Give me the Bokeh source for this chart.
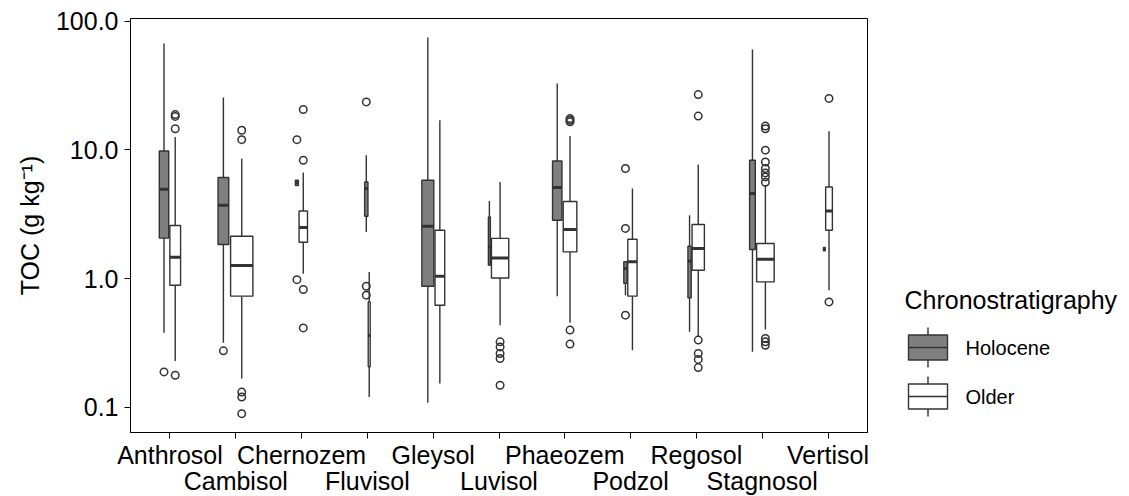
import numpy as np
from bokeh.plotting import figure
from bokeh.models import Range1d, FixedTicker, NumeralTickFormatter, ColumnDataSource, LinearAxis
from bokeh.layouts import row
from bokeh.embed import file_html
from bokeh.resources import INLINE
from bokeh.core.properties import value

# ---------------- data ----------------
soils = ["Anthrosol", "Cambisol", "Chernozem", "Fluvisol", "Gleysol", "Luvisol",
         "Phaeozem", "Podzol", "Regosol", "Stagnosol", "Vertisol"]

groups = ["Holocene", "Older"]

# Holocene boxplot statistics (TOC, g/kg)
holo_lower  = [0.378, 0.316, 5.28, 2.30, 0.108, 1.25, 0.729, 0.742, 0.385, 0.269, 1.64]
holo_q1     = [2.06, 1.84, 5.28, 3.05, 0.871, 1.27, 2.84, 0.919, 0.707, 1.68, 1.64]
holo_median = [4.94, 3.71, 5.55, 5.00, 2.55, 1.75, 5.10, 1.196, 1.36, 4.58, 1.69]
holo_q3     = [9.8, 6.1, 5.81, 5.63, 5.81, 3.01, 8.2, 1.35, 1.78, 8.3, 1.74]
holo_upper  = [67.0, 25.5, 5.81, 9.08, 74.6, 4.01, 32.8, 1.35, 3.10, 60.2, 1.74]
holo_width  = [0.143, 0.163, 0.046, 0.050, 0.182, 0.030, 0.143, 0.050, 0.050, 0.087, 0.027]
holo_outliers = [
    [0.188],
    [0.274],
    [12.0, 0.98],
    [23.6, 0.871, 0.742],
    [],
    [],
    [],
    [7.16, 2.45, 0.519],
    [],
    [],
    [],
]

# Older boxplot statistics (TOC, g/kg)
older_lower  = [0.228, 0.167, 1.09, 0.120, 0.153, 0.434, 0.452, 0.277, 0.356, 0.401, 0.811]
older_q1     = [0.887, 0.729, 1.915, 0.206, 0.62, 1.01, 1.61, 0.729, 1.16, 0.941, 2.37]
older_median = [1.46, 1.26, 2.49, 0.36, 1.04, 1.445, 2.40, 1.35, 1.71, 1.41, 3.34]
older_q3     = [2.58, 2.13, 3.35, 0.658, 2.37, 2.05, 3.97, 2.02, 2.63, 1.87, 5.15]
older_upper  = [12.6, 8.56, 6.67, 1.125, 17.0, 5.63, 12.8, 5.01, 7.69, 5.3, 13.96]
older_width  = [0.163, 0.339, 0.128, 0.030, 0.147, 0.263, 0.207, 0.141, 0.187, 0.267, 0.102]
older_outliers = [
    [18.2, 18.8, 14.6, 0.177],
    [14.2, 12.0, 0.131, 0.120, 0.089],
    [20.6, 8.3, 0.821, 0.413],
    [],
    [],
    [0.322, 0.294, 0.261, 0.239, 0.148],
    [17.5, 17.0, 16.5, 0.397, 0.309],
    [],
    [26.9, 18.3, 0.332, 0.261, 0.235, 0.203],
    [15.3, 14.6, 9.94, 8.06, 7.16, 6.62, 6.16, 5.6, 0.342, 0.322, 0.303],
    [25.1, 0.658],
]

y_ticks = [0.1, 1, 10, 100]

# ---------------- styling ----------------
FONT = "Liberation Sans"
FILLS = {"Holocene": "#7f7f7f", "Older": "#ffffff"}
EDGE = "#333333"
PAD = 0.9  # dodge2 padding: drawn width / slot width
LW = 1.4

TOP, FRAME_H, BOTTOM = 18, 414, 64
xs = np.arange(1, len(soils) + 1)

p = figure(frame_width=737, frame_height=FRAME_H, y_axis_type="log",
           x_range=Range1d(0.4, len(soils) + 0.6),
           y_range=Range1d(10 ** -1.197, 10 ** 2.021),
           min_border_left=130, min_border_right=13, min_border_top=TOP,
           min_border_bottom=BOTTOM,
           output_backend="svg", toolbar_location=None,
           background_fill_color="white", border_fill_color="white")

stats = {
    "Holocene": (holo_lower, holo_q1, holo_median, holo_q3, holo_upper, holo_width, holo_outliers),
    "Older": (older_lower, older_q1, older_median, older_q3, older_upper, older_width, older_outliers),
}

# dodge2-style placement: the two boxes sit side by side, centred on the category
slot_h = np.array(holo_width) / PAD
slot_o = np.array(older_width) / PAD
left = xs - (slot_h + slot_o) / 2
centers = {"Holocene": left + slot_h / 2, "Older": left + slot_h + slot_o / 2}

for g in groups:
    lo, q1, med, q3, hi, w, outs = stats[g]
    c = centers[g]
    w = np.array(w)
    src = ColumnDataSource(dict(
        x=c, lo=lo, q1=q1, med=med, q3=q3, hi=hi,
        l=c - w / 2, r=c + w / 2,
    ))
    p.segment(x0="x", y0="q3", x1="x", y1="hi", source=src, line_color=EDGE, line_width=LW)
    p.segment(x0="x", y0="lo", x1="x", y1="q1", source=src, line_color=EDGE, line_width=LW)
    p.quad(left="l", right="r", bottom="q1", top="q3", source=src,
           fill_color=FILLS[g], line_color=EDGE, line_width=LW)
    p.segment(x0="l", y0="med", x1="r", y1="med", source=src, line_color=EDGE, line_width=3)
    ox, oy = [], []
    for i, vals in enumerate(outs):
        for v in vals:
            ox.append(c[i])
            oy.append(v)
    p.scatter(ox, oy, marker="circle", size=7.5, fill_color=None,
              line_color=EDGE, line_width=1.5)

# axes
p.xgrid.visible = False
p.ygrid.visible = False
p.outline_line_color = "black"
p.outline_line_width = 1

# first row of category labels (odd positions) on the main axis, with all ticks
p.xaxis.ticker = FixedTicker(ticks=list(xs))
p.xaxis.major_label_overrides = {int(i): (s if i % 2 == 1 else "")
                                 for i, s in zip(xs, soils)}
# second row (even positions) on an extra axis below, without ticks or line
even = [int(i) for i in xs if i % 2 == 0]
ax2 = LinearAxis(ticker=FixedTicker(ticks=even),
                 major_label_overrides={int(i): s for i, s in zip(xs, soils) if i % 2 == 0},
                 axis_line_color=None, major_tick_line_color=None, minor_tick_line_color=None,
                 major_tick_in=0, major_tick_out=0, minor_tick_out=0, major_label_standoff=-5,
                 major_label_text_font=FONT, major_label_text_font_size="25px",
                 major_label_text_color="black")
p.add_layout(ax2, "below")

p.yaxis.ticker = FixedTicker(ticks=y_ticks)
p.yaxis.formatter = NumeralTickFormatter(format="0.0")
p.yaxis.axis_label = "TOC (g kg\u207b\u00b9)"

for ax in (p.xaxis[0], p.yaxis[0]):
    ax.axis_line_color = "black"
    ax.axis_line_width = 1
    ax.major_tick_line_color = "black"
    ax.major_tick_line_width = 1
    ax.major_tick_in = 0
    ax.major_tick_out = 6
    ax.minor_tick_line_color = None
    ax.major_label_text_font = FONT
    ax.major_label_text_font_size = "25px"
    ax.major_label_text_color = "black"
    ax.axis_label_text_font = FONT
    ax.axis_label_text_font_size = "25px"
    ax.axis_label_text_font_style = "normal"
    ax.axis_label_text_color = "black"

p.xaxis[0].major_label_standoff = 2
p.yaxis.major_label_standoff = 6
p.yaxis.axis_label_standoff = 9

# ---------------- legend panel (same frame geometry as the plot) ----------------
lg = figure(frame_width=249, frame_height=FRAME_H,
            x_range=Range1d(880, 1129), y_range=Range1d(TOP + FRAME_H, TOP),
            min_border_left=0, min_border_right=0, min_border_top=TOP,
            min_border_bottom=BOTTOM,
            output_backend="svg", toolbar_location=None,
            x_axis_location=None, y_axis_location=None,
            background_fill_color="white", border_fill_color="white")
lg.grid.visible = False
lg.outline_line_color = None

lg.text(x=[904], y=[299], text=["Chronostratigraphy"], text_font=value(FONT),
        text_font_size="25px", text_baseline="middle", text_align="left", text_color="black")

key_x0, key_x1 = 908, 947
key_mid = (key_x0 + key_x1) / 2
for k, g in enumerate(groups):
    yc = 347 + 49 * k
    lg.segment(x0=[key_mid, key_mid], y0=[yc - 20, yc + 12.5], x1=[key_mid, key_mid],
               y1=[yc - 12.5, yc + 20], line_color=EDGE, line_width=LW)
    lg.quad(left=[key_x0], right=[key_x1], top=[yc - 12.5], bottom=[yc + 12.5],
            fill_color=FILLS[g], line_color=EDGE, line_width=LW)
    lg.segment(x0=[key_x0], y0=[yc], x1=[key_x1], y1=[yc], line_color=EDGE, line_width=LW)
    lg.text(x=[965], y=[yc], text=[g], text_font=value(FONT), text_font_size="20px",
            text_baseline="middle", text_align="left", text_color="black")

layout = row(p, lg)
open("out.html", "w").write(file_html(layout, INLINE))
